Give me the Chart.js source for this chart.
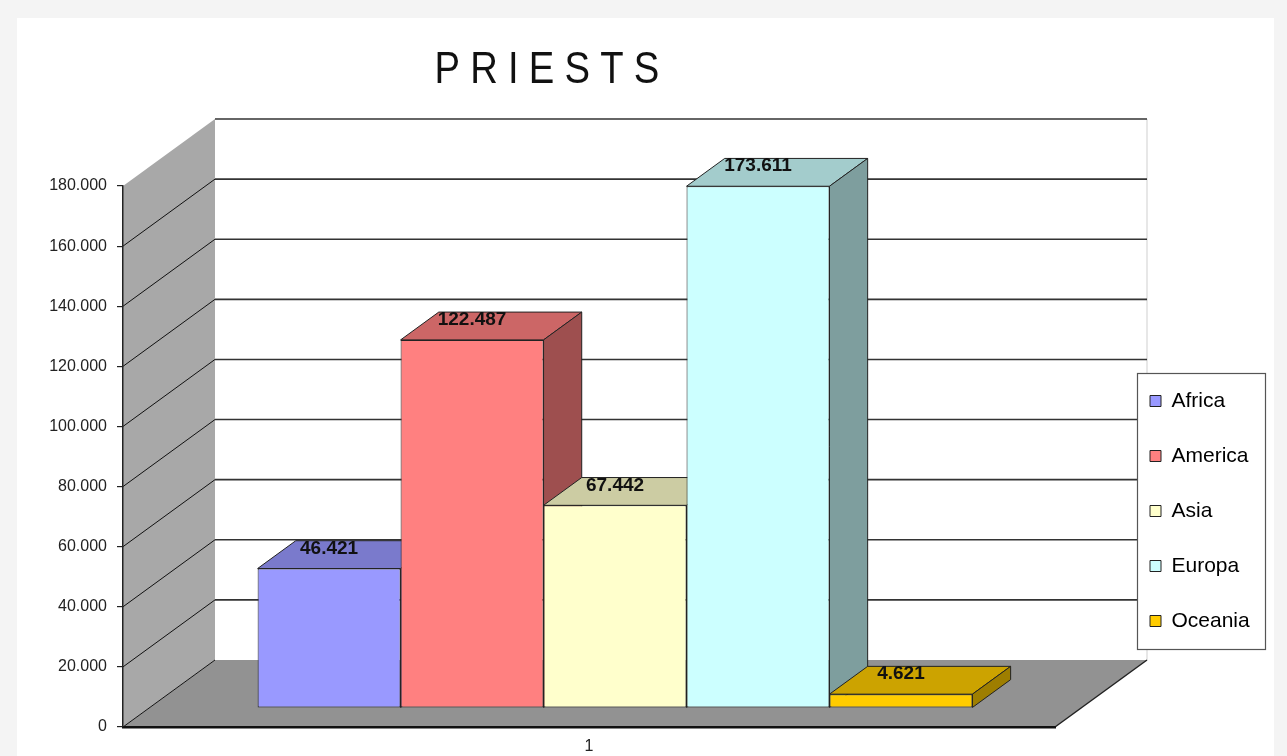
<!DOCTYPE html>
<html>
<head>
<meta charset="utf-8">
<script src="https://cdn.jsdelivr.net/npm/chart.js@4.4.1/dist/chart.umd.min.js"></script>
<style>
html,body{margin:0;padding:0;background:#f4f4f4;width:1287px;height:756px;overflow:hidden;}
#wrap{position:absolute;left:17px;top:18px;width:1257px;height:738px;background:#ffffff;}
canvas{display:block;}
</style>
</head>
<body>
<div id="wrap"><canvas id="c"></canvas></div>
<script>
// ---- data ----
const categories = ['1'];
const seriesNames = ['Africa', 'America', 'Asia', 'Europa', 'Oceania'];
const africa = [46421];
const america = [122487];
const asia = [67442];
const europa = [173611];
const oceania = [4621];
const seriesValues = [africa, america, asia, europa, oceania];
const yMin = 0, yMax = 180000, yStep = 20000;

// ---- styles ----
const frontColors = ['#9999ff', '#ff8080', '#ffffcc', '#ccffff', '#ffcc00'];
const FONT = "'Liberation Sans', Arial, sans-serif";
const GEO = { dx: 92, dy: -67, barOff: 0.283, barDepth: 0.415 };
const LEGEND_BOX = { left: 1120, top: 355, right: 1248, bottom: 631 };
const LEGEND_LAYOUT = { left: 1099, top: 326, right: 1248, bottom: 660 };
const TITLE_SHIFT = 16, TITLE_SPACING = '12px', TITLE_SCALE_X = 0.85;

function shade(hex, f) {
  const n = parseInt(hex.slice(1), 16);
  const r = Math.round(((n >> 16) & 255) * f);
  const g = Math.round(((n >> 8) & 255) * f);
  const b = Math.round((n & 255) * f);
  return 'rgb(' + r + ',' + g + ',' + b + ')';
}
function fmt(v) { return String(v).replace(/\B(?=(\d{3})+(?!\d))/g, '.'); }
function poly(ctx, pts) {
  ctx.beginPath();
  ctx.moveTo(pts[0][0], pts[0][1]);
  for (let i = 1; i < pts.length; i++) ctx.lineTo(pts[i][0], pts[i][1]);
  ctx.closePath();
}
function seg(ctx, x1, y1, x2, y2) {
  ctx.beginPath(); ctx.moveTo(x1, y1); ctx.lineTo(x2, y2); ctx.stroke();
}

const box3d = {
  id: 'box3d',
  afterLayout(chart) {
    const lg = chart.legend;
    if (!lg) return;
    lg.left = LEGEND_LAYOUT.left;
    lg.right = LEGEND_LAYOUT.right;
    lg.top = LEGEND_LAYOUT.top;
    lg.bottom = LEGEND_LAYOUT.bottom;
    lg.width = lg.right - lg.left;
    lg.height = lg.bottom - lg.top;
  },
  beforeDraw(chart) {
    const tb = chart.titleBlock;
    if (tb && !tb._spaced) {
      const orig = tb.draw.bind(tb);
      tb.draw = function (area) {
        const c = this.ctx;
        const cx = (this.left + this.right) / 2;
        c.save();
        try { c.letterSpacing = TITLE_SPACING; } catch (e) {}
        c.translate(cx + TITLE_SHIFT, 0);
        c.scale(TITLE_SCALE_X, 1);
        c.translate(-cx, 0);
        orig(area);
        c.restore();
      };
      tb._spaced = true;
    }
    const { ctx, chartArea: a, scales: { y } } = chart;
    const L = a.left, R = a.right, T = a.top, B = a.bottom, dx = GEO.dx, dy = GEO.dy;
    ctx.save();
    // side wall
    ctx.fillStyle = '#a8a8a8';
    poly(ctx, [[L, T], [L + dx, T + dy], [L + dx, B + dy], [L, B]]);
    ctx.fill();
    // floor
    ctx.fillStyle = '#929292';
    poly(ctx, [[L, B], [R, B], [R + dx, B + dy], [L + dx, B + dy]]);
    ctx.fill();
    // back wall right edge
    ctx.strokeStyle = '#cfcfcf'; ctx.lineWidth = 1;
    seg(ctx, R + dx, T + dy, R + dx, B + dy);
    // floor right edge
    ctx.strokeStyle = '#222'; ctx.lineWidth = 1.5;
    seg(ctx, R, B, R + dx, B + dy);
    // gridlines
    y.ticks.forEach(t => {
      const yf = y.getPixelForValue(t.value), yb = yf + dy;
      if (t.value < y.max) {
        ctx.strokeStyle = '#111'; ctx.lineWidth = 1;
        seg(ctx, L, yf, L + dx, yb);
      }
      if (t.value > y.min) {
        ctx.strokeStyle = '#333'; ctx.lineWidth = 1.6;
        seg(ctx, L + dx, yb, R + dx, yb);
      }
    });
    // legend frame
    ctx.fillStyle = '#ffffff';
    ctx.fillRect(LEGEND_BOX.left, LEGEND_BOX.top, LEGEND_BOX.right - LEGEND_BOX.left, LEGEND_BOX.bottom - LEGEND_BOX.top);
    ctx.strokeStyle = '#555'; ctx.lineWidth = 1.2;
    ctx.strokeRect(LEGEND_BOX.left + 0.5, LEGEND_BOX.top + 0.5, LEGEND_BOX.right - LEGEND_BOX.left, LEGEND_BOX.bottom - LEGEND_BOX.top);
    ctx.restore();
  },
  beforeDatasetsDraw(chart) {
    const ctx = chart.ctx;
    const bx = GEO.dx * GEO.barOff, by = GEO.dy * GEO.barOff;
    const ddx = GEO.dx * GEO.barDepth, ddy = GEO.dy * GEO.barDepth;
    ctx.save();
    chart.data.datasets.forEach((ds, i) => {
      const meta = chart.getDatasetMeta(i);
      meta.data.forEach(el => {
        const p = el.getProps(['x', 'y', 'base', 'width'], true);
        const l = p.x - p.width / 2 + bx, r = p.x + p.width / 2 + bx;
        const t = p.y + by, b = p.base + by;
        ctx.strokeStyle = '#222'; ctx.lineWidth = 1;
        ctx.fillStyle = shade(ds.backgroundColor, 0.8);
        poly(ctx, [[l, t], [r, t], [r + ddx, t + ddy], [l + ddx, t + ddy]]);
        ctx.fill(); ctx.stroke();
        ctx.fillStyle = shade(ds.backgroundColor, 0.62);
        poly(ctx, [[r, t], [r + ddx, t + ddy], [r + ddx, b + ddy], [r, b]]);
        ctx.fill(); ctx.stroke();
      });
    });
    ctx.translate(bx, by);
  },
  afterDatasetsDraw(chart) {
    const ctx = chart.ctx;
    ctx.restore();
    const bx = GEO.dx * GEO.barOff, by = GEO.dy * GEO.barOff;
    ctx.save();
    ctx.font = 'bold 19px ' + FONT;
    ctx.fillStyle = '#111';
    ctx.textAlign = 'center';
    ctx.textBaseline = 'middle';
    chart.data.datasets.forEach((ds, i) => {
      const meta = chart.getDatasetMeta(i);
      meta.data.forEach((el, j) => {
        const p = el.getProps(['x', 'y'], true);
        ctx.fillText(fmt(ds.data[j]), p.x + bx, p.y + by - 20);
      });
    });
    ctx.restore();
  }
};

new Chart(document.getElementById('c'), {
  type: 'bar',
  data: {
    labels: categories,
    datasets: seriesNames.map((name, i) => ({
      label: name,
      data: seriesValues[i],
      backgroundColor: frontColors[i],
      borderColor: '#222',
      borderWidth: 1,
      borderSkipped: false,
      clip: false
    }))
  },
  options: {
    responsive: true,
    maintainAspectRatio: false,
    animation: false,
    devicePixelRatio: 1,
    categoryPercentage: 0.767,
    barPercentage: 1,
    layout: { padding: { left: 0, right: 219, top: 0, bottom: 0 } },
    plugins: {
      title: {
        display: true,
        text: 'PRIESTS',
        color: '#111',
        font: { family: "'Liberation Sans Narrow', 'Liberation Sans', Arial, sans-serif", size: 45, weight: 'normal', lineHeight: 1.2 },
        padding: { top: 26, bottom: 88 }
      },
      legend: {
        position: 'chartArea',
        align: 'center',
        labels: {
          font: { family: FONT, size: 21 },
          color: '#000',
          boxWidth: 11,
          boxHeight: 11,
          padding: 34
        }
      },
      tooltip: { enabled: false }
    },
    scales: {
      x: {
        grid: { display: false, drawTicks: false },
        border: { display: true, color: '#111', width: 2.5 },
        ticks: { color: '#222', font: { family: FONT, size: 16 }, padding: 10 },
        afterFit(s) { s.height = 29; }
      },
      y: {
        min: yMin,
        max: yMax,
        ticks: { stepSize: yStep, color: '#222', font: { family: FONT, size: 16 }, padding: 10, callback: v => fmt(v) },
        grid: { drawOnChartArea: false, drawTicks: true, tickLength: 6, color: '#222', lineWidth: 1.2 },
        border: { display: true, color: '#222', width: 1.5 },
        afterFit(s) { s.width = 106; }
      }
    }
  },
  plugins: [box3d]
});
</script>
</body>
</html>
